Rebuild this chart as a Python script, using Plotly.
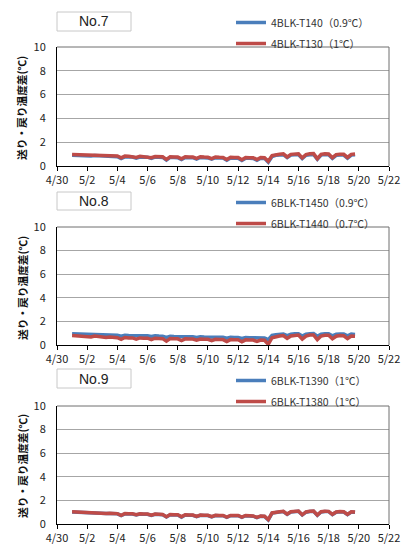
import pandas as pd
import plotly.graph_objects as go

# ---------------- data (6-hour samples, 5/1 00:00 -> 5/19 18:00) ----------------
times = pd.date_range("2015-05-01 00:00", periods=76, freq="6h")

no7_blue = [0.90,0.88,0.90,0.88, 0.87,0.85,0.88,0.86, 0.82,0.80,0.83,0.80, 0.78,0.62,0.77,0.76,
            0.75,0.66,0.76,0.74, 0.74,0.64,0.75,0.73, 0.72,0.50,0.72,0.71, 0.70,0.54,0.72,0.70,
            0.70,0.58,0.72,0.70, 0.68,0.57,0.70,0.68, 0.67,0.48,0.68,0.66, 0.66,0.46,0.66,0.65,
            0.64,0.48,0.65,0.64, 0.32,0.80,0.90,0.92, 0.95,0.70,0.92,0.94, 0.96,0.62,0.90,0.95,
            0.97,0.56,0.92,0.96, 0.95,0.64,0.90,0.93, 0.92,0.66,0.92,0.95]
no7_red = [0.96,0.95,0.97,0.95, 0.94,0.90,0.95,0.93, 0.88,0.86,0.89,0.86, 0.84,0.68,0.83,0.82,
           0.80,0.72,0.82,0.80, 0.79,0.70,0.80,0.78, 0.77,0.56,0.78,0.76, 0.75,0.60,0.78,0.75,
           0.75,0.64,0.78,0.75, 0.73,0.62,0.76,0.73, 0.72,0.54,0.73,0.71, 0.71,0.52,0.71,0.70,
           0.70,0.54,0.71,0.70, 0.40,0.88,0.96,0.98, 1.02,0.76,0.98,1.00, 1.03,0.68,0.96,1.02,
           1.04,0.62,0.98,1.03, 1.01,0.70,0.96,0.99, 0.98,0.72,0.98,1.01]

no8_blue = [0.95,0.94,0.95,0.93, 0.90,0.86,0.92,0.90, 0.86,0.84,0.86,0.84, 0.82,0.74,0.82,0.80,
            0.80,0.76,0.80,0.78, 0.78,0.72,0.78,0.76, 0.75,0.64,0.74,0.72, 0.72,0.66,0.72,0.70,
            0.70,0.64,0.70,0.68, 0.68,0.62,0.68,0.66, 0.66,0.58,0.66,0.64, 0.64,0.56,0.64,0.62,
            0.62,0.55,0.62,0.60, 0.45,0.82,0.88,0.90, 0.94,0.80,0.92,0.95, 0.96,0.76,0.92,0.96,
            0.97,0.74,0.92,0.95, 0.95,0.78,0.92,0.94, 0.93,0.78,0.92,0.90]
no8_red = [0.80,0.78,0.80,0.76, 0.72,0.68,0.76,0.72, 0.68,0.64,0.68,0.66, 0.62,0.48,0.64,0.60,
           0.60,0.50,0.60,0.58, 0.58,0.46,0.58,0.56, 0.54,0.32,0.54,0.52, 0.52,0.38,0.52,0.50,
           0.50,0.40,0.50,0.48, 0.48,0.36,0.48,0.46, 0.46,0.30,0.46,0.44, 0.44,0.28,0.44,0.42,
           0.42,0.30,0.42,0.40, 0.06,0.62,0.72,0.76, 0.80,0.56,0.76,0.82, 0.84,0.50,0.76,0.84,
           0.85,0.46,0.76,0.82, 0.82,0.52,0.74,0.80, 0.78,0.54,0.76,0.74]

no9_blue = [1.02,1.00,1.02,0.99, 0.96,0.94,0.96,0.94, 0.90,0.88,0.90,0.88, 0.86,0.72,0.86,0.84,
            0.84,0.76,0.84,0.82, 0.82,0.72,0.82,0.80, 0.78,0.60,0.78,0.76, 0.76,0.58,0.76,0.74,
            0.74,0.62,0.74,0.72, 0.72,0.60,0.72,0.70, 0.70,0.56,0.70,0.70, 0.70,0.56,0.70,0.68,
            0.66,0.54,0.66,0.64, 0.34,0.92,1.00,1.02, 1.06,0.82,1.02,1.06, 1.08,0.76,1.00,1.06,
            1.08,0.74,1.02,1.06, 1.05,0.80,1.00,1.04, 1.02,0.80,1.02,1.00]
no9_red = [1.04,1.02,1.04,1.01, 0.98,0.96,0.98,0.96, 0.92,0.90,0.92,0.90, 0.88,0.74,0.88,0.86,
           0.86,0.78,0.86,0.84, 0.84,0.74,0.84,0.82, 0.80,0.62,0.80,0.78, 0.78,0.62,0.78,0.76,
           0.76,0.64,0.76,0.74, 0.74,0.62,0.74,0.72, 0.72,0.58,0.72,0.72, 0.72,0.58,0.72,0.70,
           0.68,0.56,0.68,0.66, 0.38,0.94,1.02,1.04, 1.08,0.84,1.04,1.08, 1.10,0.78,1.02,1.08,
           1.10,0.76,1.04,1.08, 1.07,0.82,1.02,1.06, 1.04,0.82,1.04,1.02]

panel_titles = ["No.7", "No.8", "No.9"]
series_names = [["4BLK-T140（0.9℃）", "4BLK-T130（1℃）"],
                ["6BLK-T1450（0.9℃）", "6BLK-T1440（0.7℃）"],
                ["6BLK-T1390（1℃）", "6BLK-T1380（1℃）"]]
series_values = [[no7_blue, no7_red], [no8_blue, no8_red], [no9_blue, no9_red]]

tick_dates = pd.date_range("2015-04-30", "2015-05-22", freq="2D")
tick_labels = [f"{d.month}/{d.day}" for d in tick_dates]
y_ticks = [0, 2, 4, 6, 8, 10]
y_title = "送り・戻り温度差(℃)"

# ---------------- layout geometry ----------------
W, H = 406, 546
FONT = "Noto Sans CJK JP, Liberation Sans, sans-serif"
BLUE = "#4A7EBB"
RED = "#BE4B48"

x_dom = [57 / W, 389 / W]
panels_px = [(47, 166), (227, 345), (406, 524)]          # plot top / bottom in px
box_px = [(12, 31), (192, 210), (369, 388)]              # title box top / bottom
legend_top_px = [8, 188, 366]
title_center_px = [108, 288, 466]

fig = go.Figure()
layout = dict(
    width=W, height=H,
    margin=dict(l=0, r=0, t=0, b=0, pad=0, autoexpand=False),
    paper_bgcolor="white", plot_bgcolor="white",
    font=dict(family=FONT, size=11, color="#222222"),
    shapes=[], annotations=[], hovermode=False,
)

for i in range(3):
    ax = "" if i == 0 else str(i + 1)
    xa, ya = "x" + ax, "y" + ax
    leg = "legend" if i == 0 else f"legend{i + 1}"
    colors = [BLUE, RED]
    for j in range(2):
        fig.add_trace(go.Scatter(
            x=times, y=series_values[i][j], mode="lines", name=series_names[i][j],
            line=dict(color=colors[j], width=3.5), xaxis=xa, yaxis=ya,
            legend=leg, legendgroup=f"g{i}{j}", showlegend=True,
        ))
    top, bot = panels_px[i]
    layout["xaxis" + ax] = dict(
        domain=x_dom, anchor=ya, type="date", automargin=False,
        range=["2015-04-30", "2015-05-22"],
        tickmode="array", tickvals=list(tick_dates), ticktext=tick_labels,
        showgrid=False, zeroline=False,
        showline=True, linecolor="black", linewidth=1,
        ticks="outside", ticklen=4, tickcolor="black",
        tickfont=dict(size=11, color="#222222"), ticklabelstandoff=0,
    )
    layout["yaxis" + ax] = dict(
        domain=[1 - bot / H, 1 - top / H], anchor=xa, automargin=False,
        range=[0, 10], tickvals=y_ticks,
        showgrid=True, gridcolor="#A6A6A6", gridwidth=1,
        zeroline=False, showline=True, linecolor="black", linewidth=1,
        ticks="", tickfont=dict(size=11, color="#222222"), ticklabelstandoff=8,
    )
    # top / right frame of the plot area
    layout["shapes"].append(dict(
        type="path", xref=xa + " domain", yref=ya + " domain",
        path="M 0,1 L 1,1 L 1,0", line=dict(color="#6E6E6E", width=1),
    ))
    # title box
    b_top, b_bot = box_px[i]
    layout["shapes"].append(dict(
        type="rect", xref="paper", yref="paper",
        x0=57 / W, x1=131 / W, y0=1 - b_bot / H, y1=1 - b_top / H,
        line=dict(color="#C8C8C8", width=1), fillcolor="white",
    ))
    layout["annotations"].append(dict(
        text=panel_titles[i], xref="paper", yref="paper",
        x=94 / W, y=1 - (b_top + b_bot) / 2 / H, showarrow=False,
        xanchor="center", yanchor="middle",
        font=dict(family="Liberation Sans, Arial, sans-serif", size=14, color="#222222"),
    ))
    # y-axis title
    layout["annotations"].append(dict(
        text=f"<b>{y_title}</b>", xref="paper", yref="paper",
        x=22 / W, y=1 - title_center_px[i] / H, textangle=-90, showarrow=False,
        xanchor="center", yanchor="middle",
        font=dict(family=FONT, size=10.7, color="#111111"),
    ))
    layout[leg] = dict(
        x=231 / W, y=1 - legend_top_px[i] / H, xanchor="left", yanchor="top",
        bgcolor="rgba(0,0,0,0)", borderwidth=0,
        font=dict(family=FONT, size=10.5, color="#333333"),
        itemwidth=30, tracegroupgap=2, orientation="v",
    )

fig.update_layout(**layout)
fig.write_html(
    "out.html",
    config={"displayModeBar": False, "staticPlot": True},
    post_script=(
        "document.documentElement.style.margin='0';"
        "document.documentElement.style.overflow='hidden';"
        "document.body.style.margin='0';document.body.style.padding='0';"
        "document.body.style.overflow='hidden';"
        "var gd=document.querySelector('.plotly-graph-div');"
        "gd.style.position='fixed';gd.style.left='0px';gd.style.top='0px';"
    ),
)
